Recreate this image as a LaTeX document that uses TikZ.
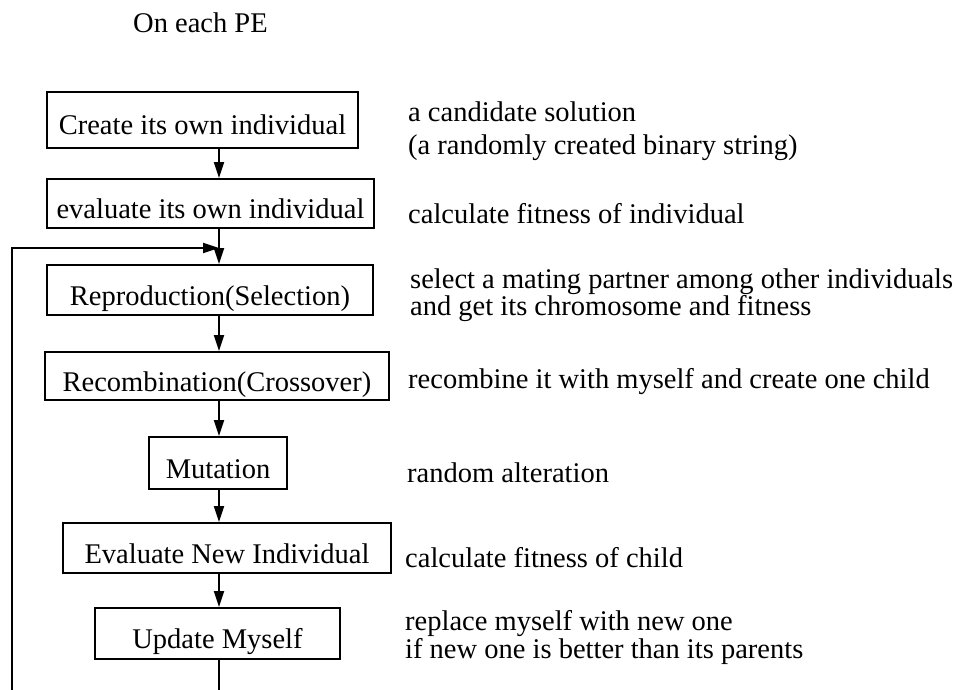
\documentclass[tikz,border=0pt]{standalone}
\usepackage{fontspec}
\setmainfont{Liberation Serif}
\usetikzlibrary{arrows.meta}
\begin{document}
\begin{tikzpicture}[x=1pt,y=-1pt,
  every node/.style={font=\fontsize{28.5}{30}\selectfont},
  stepbox/.style={draw, line width=1.8pt, inner sep=0pt, text height=32pt, text depth=2pt},
  note/.style={anchor=base west, inner sep=0pt, align=left},
  flow/.style={line width=1.8pt, -{Triangle[length=16pt,width=10pt]}},
  wire/.style={line width=1.8pt}]
\useasboundingbox (0,0) rectangle (956,690);

% heading
\node[anchor=base west, inner sep=0pt] (title) at (133,33) {On each PE};

% the steps of the loop
\node[stepbox, minimum width=311pt, minimum height=56pt] (b1) at (202.5,120) {Create its own individual};
\node[stepbox, minimum width=327pt, minimum height=49pt] (b2) at (210.5,203.5) {evaluate its own individual};
\node[stepbox, minimum width=326pt, minimum height=50pt] (b3) at (210,290) {Reproduction(Selection)};
\node[stepbox, minimum width=344pt, minimum height=48pt] (b4) at (217,376) {Recombination(Crossover)};
\node[stepbox, minimum width=138pt, minimum height=52pt] (b5) at (218,463) {Mutation};
\node[stepbox, minimum width=328pt, minimum height=50pt] (b6) at (227,548) {Evaluate New Individual};
\node[stepbox, minimum width=245pt, minimum height=51pt] (b7) at (217.5,633.5) {Update Myself};

% explanations on the right (multi-line nodes sit on their last baseline)
\node[note] (n1) at (408,155) {a candidate solution\\[3pt](a randomly created binary string)};
\node[note] (n2) at (408,223) {calculate fitness of individual};
\node[note] (n3) at (410,315) {select a mating partner among other individuals\\[-3pt]and get its chromosome and fitness};
\node[note] (n4) at (408,388) {recombine it with myself and create one child};
\node[note] (n5) at (407,482) {random alteration};
\node[note] (n6) at (405,567) {calculate fitness of child};
\node[note] (n7) at (405,658) {replace myself with new one\\[-2pt]if new one is better than its parents};

% spine of the flow and loop-back points
\coordinate (spine) at (219,0);
\coordinate (join) at (219,248);
\coordinate (loopfoot) at (12,690);
\coordinate (exit) at (219,690);

\draw[flow] (b1.south -| spine) -- (b2.north -| spine);
\draw[flow] (b2.south -| spine) -- (b3.north -| spine);
\draw[flow] (b3.south -| spine) -- (b4.north -| spine);
\draw[flow] (b4.south -| spine) -- (b5.north -| spine);
\draw[flow] (b5.south -| spine) -- (b6.north -| spine);
\draw[flow] (b6.south -| spine) -- (b7.north -| spine);
\draw[wire] (b7.south -| spine) -- (exit);
\draw[flow] (loopfoot) |- (join);
\end{tikzpicture}
\end{document}
